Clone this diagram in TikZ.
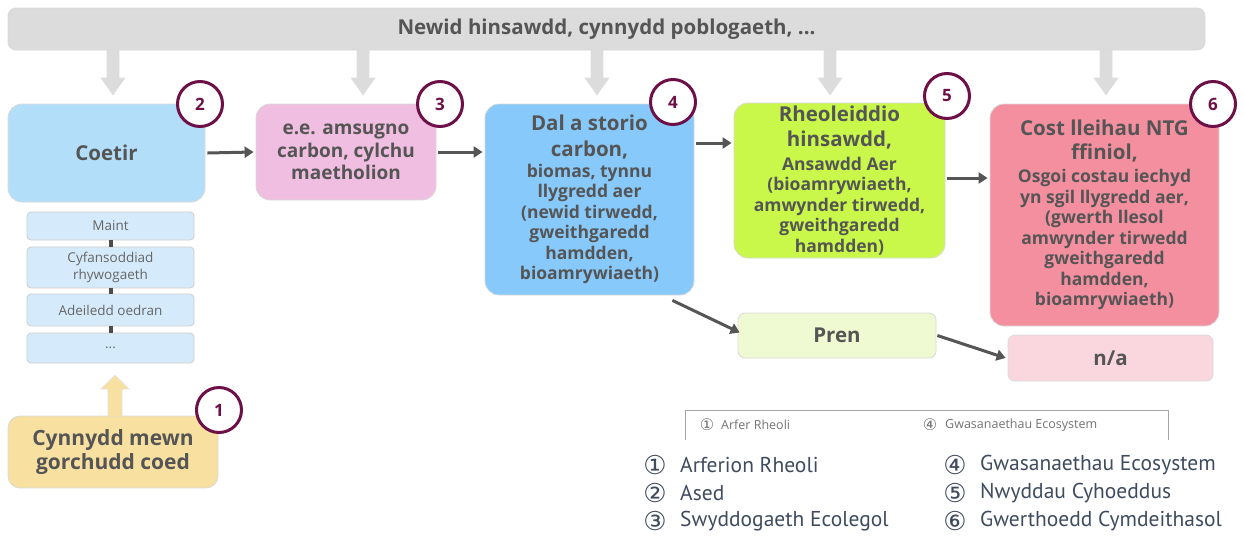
\documentclass[tikz,border=0pt]{standalone}
\usepackage{fontspec}
\setmainfont{Open Sans}
\newfontfamily\legfont{PT Sans}
\newfontfamily\symfont{DejaVu Sans}
\usetikzlibrary{arrows.meta}
\definecolor{txt}{HTML}{555555}
\definecolor{barc}{HTML}{DCDCDC}
\definecolor{c2}{HTML}{B3DEFA}
\definecolor{c3}{HTML}{F0BEE0}
\definecolor{c4}{HTML}{87C9FA}
\definecolor{c5}{HTML}{C9F74A}
\definecolor{c6}{HTML}{F48FA0}
\definecolor{cpren}{HTML}{EFFAD2}
\definecolor{cna}{HTML}{FAD7DE}
\definecolor{cyel}{HTML}{F8E0A0}
\definecolor{csub}{HTML}{D5EBFC}
\definecolor{arr}{HTML}{555555}
\definecolor{numc}{HTML}{6E1048}
\definecolor{legc}{HTML}{3F4B5E}
\newcommand\fT{\fontsize{20.5}{20.5}\selectfont}
\newcommand\fS{\fontsize{17.5}{20.5}\selectfont}
\tikzset{
  box/.style={rounded corners=14pt, draw=black!15, line width=0.8pt, align=center,
    text=txt, font=\bfseries, inner sep=0pt},
  subbox/.style={rounded corners=4pt, draw=black!20, line width=0.8pt, fill=csub,
    align=center, text=black!60, minimum width=167pt, inner sep=0pt,
    font=\fontsize{13.5}{16.5}\selectfont},
  num/.style={circle, draw=numc, line width=3pt, fill=white, minimum size=45pt,
    inner sep=0pt, font=\bfseries\fontsize{17}{17}\selectfont, text=numc},
  flow/.style={draw=arr, line width=3pt, -{Triangle[length=9pt,width=11pt]}},
  blockarr/.style={fill=barc, draw=black!12, line width=0.6pt},
  subcon/.style={draw=black!70, line width=4pt},
  legtxt/.style={anchor=west, inner sep=0pt, text=legc, font=\legfont\fontsize{21.5}{21.5}\selectfont},
  legsym/.style={anchor=center, inner sep=0pt, text=legc, font=\symfont\fontsize{26}{26}\selectfont},
  smalltxt/.style={anchor=west, inner sep=0pt, text=black!55, font=\fontsize{12.5}{12.5}\selectfont},
  smallsym/.style={anchor=center, inner sep=0pt, text=black!55, font=\symfont\fontsize{16}{16}\selectfont},
}
\begin{document}
\begin{tikzpicture}[x=1pt,y=-1pt]
\useasboundingbox (0,0) rectangle (1244,536);

% top bar
\node[box, rounded corners=8pt, fill=barc, minimum width=1197pt, minimum height=42pt,
  font=\bfseries\fontsize{20.5}{20.5}\selectfont] (bar) at (606.5,29) {Newid hinsawdd, cynnydd poblogaeth, ...};

% grey block arrows
\foreach \ax in {113,363,597,830,1106}{
  \draw[blockarr] (\ax-6,50) -- (\ax-6,78) -- (\ax-12,78) -- (\ax,95) -- (\ax+12,78) -- (\ax+6,78) -- (\ax+6,50);
}

% main boxes
\node[box, fill=c2, minimum width=197pt, minimum height=98pt, font=\bfseries\fT] (b2) at (106.5,153) {Coetir};
\node[box, fill=c3, minimum width=180pt, minimum height=96pt,
  font=\bfseries\fontsize{19}{22.5}\selectfont] (b3) at (346,152) {e.e. amsugno\\carbon, cylchu\\maetholion};
\node[box, fill=c4, minimum width=209pt, minimum height=191pt, font=\bfseries\fS] (b4) at (589.5,199.5)
  {\fT Dal a storio\\[5.5pt]\fT carbon,\\\fS biomas, tynnu\\llygredd aer\\(newid tirwedd,\\gweithgaredd\\hamdden,\\bioamrywiaeth)};
\node[box, fill=c5, minimum width=211pt, minimum height=155pt, font=\bfseries\fS] (b5) at (839.5,180.5)
  {\fT Rheoleiddio\\[4.5pt]\fT hinsawdd,\\[3pt]\fS Ansawdd Aer\\(bioamrywiaeth,\\amwynder tirwedd,\\gweithgaredd\\hamdden)};
\node[box, fill=c6, minimum width=229pt, minimum height=222pt, font=\bfseries\fS] (b6) at (1104.5,215)
  {\fT Cost lleihau NTG\\[3.5pt]\fT ffiniol,\\[3pt]\fS Osgoi costau iechyd\\yn sgil llygredd aer,\\(gwerth llesol\\amwynder tirwedd\\gweithgaredd\\hamdden,\\bioamrywiaeth)};
\node[box, rounded corners=7pt, fill=cpren, minimum width=198pt, minimum height=45pt, font=\bfseries\fT] (pren) at (837,335.5) {Pren};
\node[box, rounded corners=7pt, fill=cna, minimum width=205pt, minimum height=46pt, font=\bfseries\fT] (na) at (1110.5,358) {n/a};

% sub boxes
\node[subbox, minimum height=28pt] (s1) at (110.5,226) {Maint};
\node[subbox, minimum height=41pt] (s2) at (110.5,267.5) {Cyfansoddiad\\rhywogaeth};
\node[subbox, minimum height=32pt] (s3) at (110.5,310) {Adeiledd oedran};
\node[subbox, minimum height=30pt] (s4) at (110.5,348) {...};
\draw[subcon] (s1.south) -- (s2.north);
\draw[subcon] (s2.south) -- (s3.north);
\draw[subcon] (s3.south) -- (s4.north);

% yellow box and up arrow
\node[box, rounded corners=12pt, fill=cyel, minimum width=210pt, minimum height=72pt,
  font=\bfseries\fontsize{21}{24.5}\selectfont] (b1) at (113,452) {Cynnydd mewn\\gorchudd coed};
\draw[fill=cyel, draw=black!12, line width=0.6pt] (108,416) -- (108,389) -- (101,389) -- (115,375) -- (129,389) -- (122,389) -- (122,416);

% flow arrows
\coordinate (a45) at ([yshift=56.5pt]b4.east);
\coordinate (a56) at ([yshift=2.5pt]b5.east);
\coordinate (a4p) at ([xshift=-22pt,yshift=-5pt]b4.south east);
\draw[flow] ([xshift=2pt]b2.east) -- ([xshift=-2pt]b3.west);
\draw[flow] ([xshift=2pt]b3.east) -- ([xshift=-2pt]b4.west |- b3.east);
\draw[flow] ([xshift=2pt]a45) -- ([xshift=-2pt]b5.west |- a45);
\draw[flow] ([xshift=2pt]a56) -- ([xshift=-2pt]b6.west |- a56);
\draw[flow] (a4p) -- ([xshift=2pt,yshift=3pt]pren.west);
\draw[flow] ([xshift=1pt]pren.east) -- ([xshift=-2pt]na.west);

% number circles
\node[num] (n2) at (200,104) {2};
\node[num] (n3) at (440,104) {3};
\node[num] (n4) at (673,102) {4};
\node[num] (n5) at (947,96) {5};
\node[num] (n6) at (1213,104) {6};
\node[num] (n1) at (219,410) {1};

% small legend strip
\draw[draw=black!35, line width=0.8pt] (685,440) -- (685,410) -- (1168,410) -- (1168,440);
\node[smallsym] (ls1) at (707,425) {①};
\node[smalltxt] (lt1) at (721,425) {Arfer Rheoli};
\node[smallsym] (ls4) at (930,425) {④};
\node[smalltxt] (lt4) at (945,425) {Gwasanaethau Ecosystem};

% legend
\node[legsym] (g1) at (655,465) {①};
\node[legtxt] (t1) at (680,465) {Arferion Rheoli};
\node[legsym] (g2) at (655,493) {②};
\node[legtxt] (t2) at (680,493) {Ased};
\node[legsym] (g3) at (655,521) {③};
\node[legtxt] (t3) at (680,521) {Swyddogaeth Ecolegol};
\node[legsym] (g4) at (955,465) {④};
\node[legtxt] (t4) at (980,465) {Gwasanaethau Ecosystem};
\node[legsym] (g5) at (955,493) {⑤};
\node[legtxt] (t5) at (980,493) {Nwyddau Cyhoeddus};
\node[legsym] (g6) at (955,521) {⑥};
\node[legtxt] (t6) at (980,521) {Gwerthoedd Cymdeithasol};
\end{tikzpicture}
\end{document}
